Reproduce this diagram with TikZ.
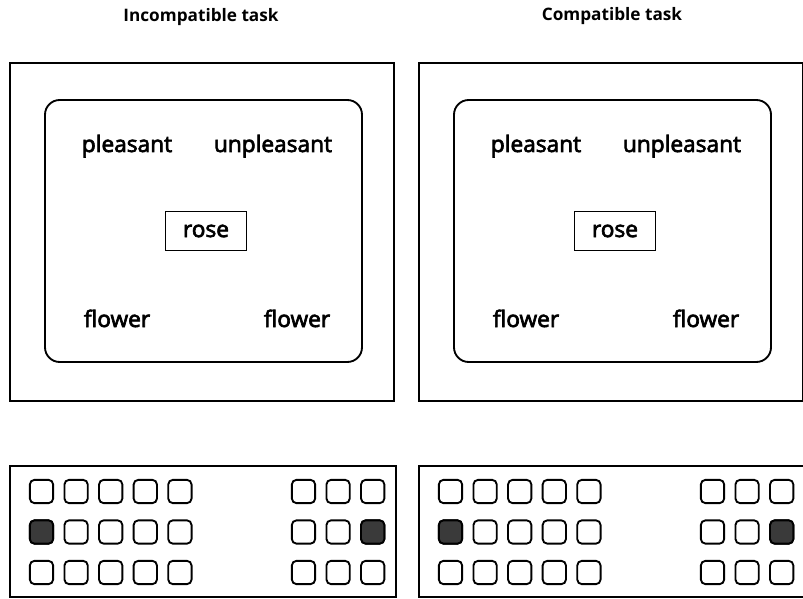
\documentclass[tikz,border=0pt]{standalone}
\usepackage{fontspec}
\setmainfont{Open Sans}
\newfontfamily\wordfont{Open Sans}[BoldFont={Open Sans}, BoldFeatures={FakeBold=3}]
\usetikzlibrary{positioning}
\definecolor{keyshade}{HTML}{3A3A3A}

\begin{document}
\begin{tikzpicture}[x=0.75pt,y=-0.75pt,
    title/.style={font=\bfseries\fontsize{12.9}{15}\selectfont, anchor=base},
    word/.style={font=\wordfont\bfseries\fontsize{17}{20}\selectfont, anchor=base},
    probe/.style={draw, line width=1.1pt, minimum width=61pt, minimum height=29pt, font=\wordfont\bfseries\fontsize{17}{20}\selectfont},
    key/.style={draw, line width=1.4pt, rounded corners=3.5pt, minimum width=17.5pt, minimum height=17.5pt, inner sep=0pt},
    litkey/.style={key, fill=keyshade}]
  \useasboundingbox (0,0) rectangle (803,599);
  \clip (0,0) rectangle (803,599);
  \node[title] (tinc) at (201,22) {Incompatible task};
  \node[title] (tcom) at (612,21) {Compatible task};
  \foreach \s/\dx in {inc/0, com/409}{
    % monitor
    \draw[line width=1.6pt] (10+\dx,63) rectangle (394+\dx,401);
    \draw[line width=1.4pt, rounded corners=11pt] (45+\dx,100) rectangle (362+\dx,362);
    \node[word] (\s-pl) at (127+\dx,152) {pleasant};
    \node[word] (\s-un) at (273+\dx,152) {unpleasant};
    \node[probe] (\s-rose) at (206+\dx,231) {rose};
    \node[word] (\s-fl1) at (117+\dx,327) {flower};
    \node[word] (\s-fl2) at (297+\dx,327) {flower};
    % keyboard
    \draw[line width=1.6pt] (10+\dx,466) rectangle (396+\dx,597);
    \foreach \r in {1,2,3}{
      \foreach \c in {1,...,5}{
        \node[key] (\s-l\r\c) at ({41.5+34.6*(\c-1)+\dx},{491.5+40.5*(\r-1)}) {};
      }
      \foreach \c in {1,2,3}{
        \node[key] (\s-r\r\c) at ({303.5+34.6*(\c-1)+\dx},{491.5+40.5*(\r-1)}) {};
      }
    }
    \node[litkey] at (\s-l21) {};
    \node[litkey] at (\s-r23) {};
  }
\end{tikzpicture}
\end{document}
